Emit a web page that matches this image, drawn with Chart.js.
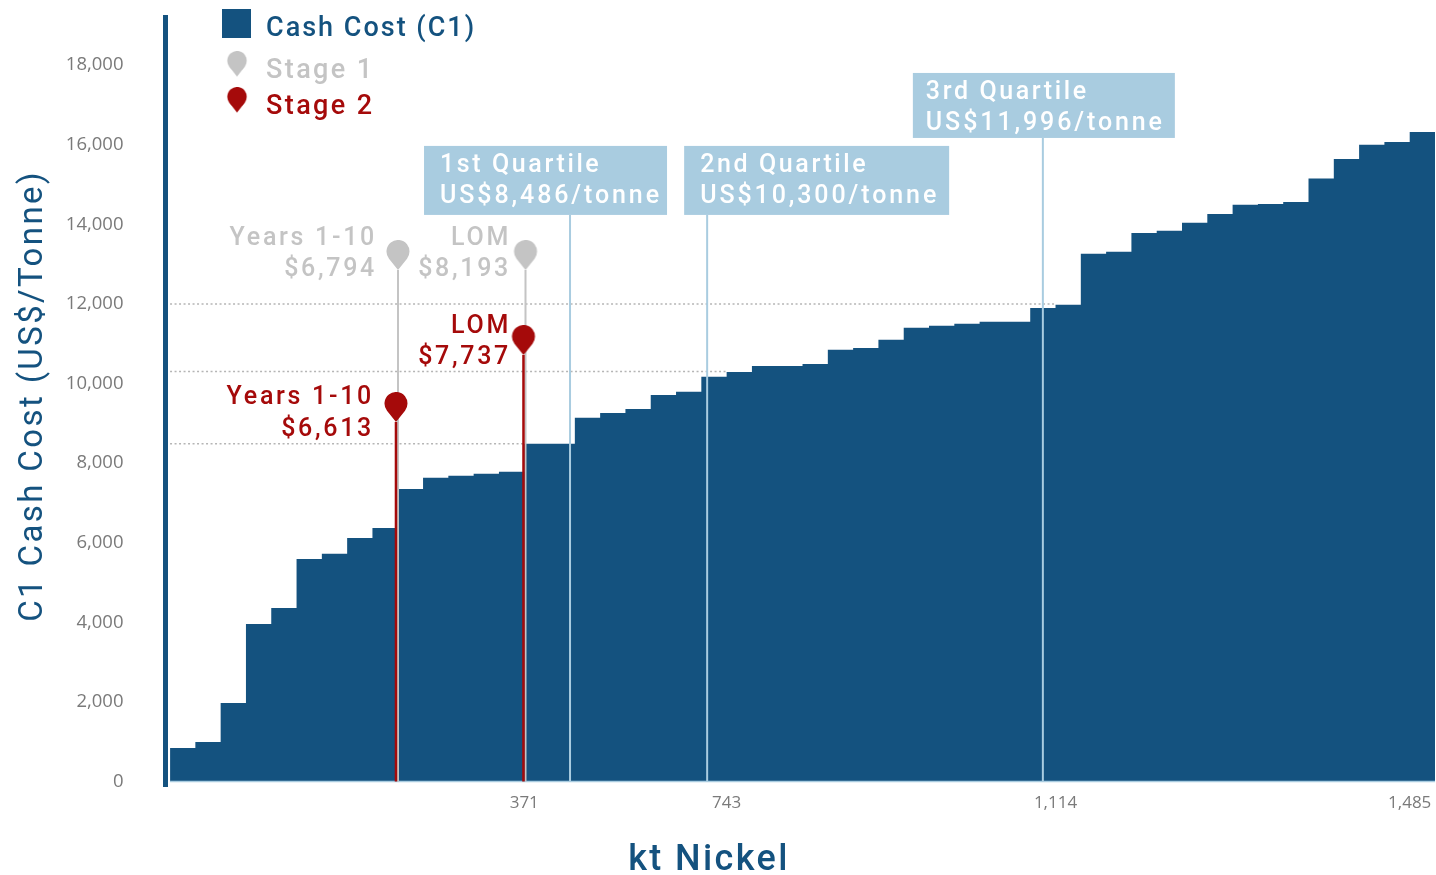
<!DOCTYPE html>
<html>
<head>
<meta charset="utf-8">
<title>C1 Cash Cost</title>
<script src="https://cdn.jsdelivr.net/npm/chart.js@4"></script>
<style>
    html, body { margin: 0; padding: 0; background: #fff; }
    canvas { display: block; }
</style>
</head>
<body>
<canvas id="costChart" width="1436" height="875"></canvas>
<script>
// one value per producer block on the cost curve
const cashCost = [
    840, 990, 1970, 3960, 4360, 5590, 5720, 6120, 6370, 7350,
    7630, 7680, 7730, 7780, 8486, 8486, 9140, 9260, 9360, 9710,
    9790, 10170, 10290, 10440, 10440, 10490, 10850, 10890, 11100, 11400,
    11450, 11500, 11550, 11550, 11900, 11980, 13260, 13310, 13780, 13840,
    14040, 14260, 14490, 14510, 14560, 15150, 15640, 16000, 16070, 16320
];

const yTickValues = [0, 2000, 4000, 6000, 8000, 10000, 12000, 14000, 16000, 18000];
const xTickPositions = [14, 22, 35, 49];
const xTickLabels = ['371', '743', '1,114', '1,485'];

const quartileNames = ['1st Quartile', '2nd Quartile', '3rd Quartile'];
const quartileCosts = [8486, 10300, 11996];
const quartileBlocks = [15.81, 21.23, 34.5];
const quartileDotEnds = [14, 22, 35];
const quartileStemTops = [14236, 14236, 16170];

const stage1Blocks = [9.01, 14.05];
const stage1PinHeights = [12852, 12852];
const stage2Blocks = [8.93, 13.97];
const stage2PinHeights = [9033, 10716];

const NAVY = '#14527f';
const PALE = '#a9cce0';
const RED = '#a50a0a';
const GREY = '#c4c4c4';
const TEXT_FONT = 'Roboto';

// teardrop marker, tip sits at the centre of the canvas so it lands on the data point
function makePin(color) {
    const c = document.createElement('canvas');
    c.width = 26;
    c.height = 60;
    const g = c.getContext('2d');
    g.fillStyle = color;
    g.beginPath();
    g.arc(13, 11.5, 11.5, 2.47, 0.67);
    g.lineTo(13, 30);
    g.closePath();
    g.fill();
    return c;
}

const greyPin = makePin(GREY);
const redPin = makePin(RED);

function text(ctx, str, x, y, size, color, align, spacing, weight) {
    ctx.font = (weight || 500) + ' ' + size + 'px ' + TEXT_FONT;
    ctx.letterSpacing = (spacing || 2.7) + 'px';
    ctx.fillStyle = color;
    ctx.textAlign = align || 'left';
    ctx.textBaseline = 'middle';
    ctx.fillText(str, x, y);
}

const annotations = {
    id: 'annotations',
    afterDraw(chart) {
        const ctx = chart.ctx;
        const xs = chart.scales.x, ys = chart.scales.y;
        ctx.save();

        // quartile boxes hang off the top of their stems
        const boxLeft = [-146, -23, -130];
        const boxRight = [97, 242, 132];
        const boxHeight = [69, 69, 65];
        quartileNames.forEach((name, i) => {
            const x = xs.getPixelForValue(quartileBlocks[i]);
            const bottom = ys.getPixelForValue(quartileStemTops[i]);
            ctx.fillStyle = PALE;
            ctx.fillRect(x + boxLeft[i], bottom - boxHeight[i], boxRight[i] - boxLeft[i], boxHeight[i]);
            const tx = x + boxLeft[i] + (i === 2 ? 13 : 16);
            text(ctx, name, tx, bottom - boxHeight[i] + 20, 25, '#fff', 'left', 2.6);
            text(ctx, 'US$' + quartileCosts[i].toLocaleString('en-US') + '/tonne', tx, bottom - boxHeight[i] + 51, 25, '#fff', 'left', 2.9);
        });

        // pin captions
        text(ctx, 'Years 1-10', 377, 239, 25, GREY, 'right');
        text(ctx, '$6,794', 377, 270, 25, GREY, 'right');
        text(ctx, 'LOM', 511, 239, 25, GREY, 'right');
        text(ctx, '$8,193', 511, 270, 25, GREY, 'right');
        text(ctx, 'LOM', 511, 327, 25, RED, 'right');
        text(ctx, '$7,737', 511, 358, 25, RED, 'right');
        text(ctx, 'Years 1-10', 374, 398, 25, RED, 'right');
        text(ctx, '$6,613', 374, 430, 25, RED, 'right');

        // legend
        ctx.fillStyle = NAVY;
        ctx.fillRect(222, 9, 29, 29);
        text(ctx, 'Cash Cost (C1)', 266, 29, 27, NAVY, 'left', 2);
        ctx.drawImage(greyPin, 226, 51, 22, 51);
        text(ctx, 'Stage 1', 266, 71, 27, GREY, 'left', 2.4);
        ctx.drawImage(redPin, 226, 87, 22, 51);
        text(ctx, 'Stage 2', 266, 107, 27, RED, 'left', 2.4);

        // axis titles
        text(ctx, 'kt Nickel', 709, 861, 36, NAVY, 'center', 2.4);
        ctx.translate(34, 396);
        ctx.rotate(-Math.PI / 2);
        text(ctx, 'C1 Cash Cost (US$/Tonne)', 0, 0, 33, NAVY, 'center', 2.4, 400);
        ctx.restore();
    }
};

function stem(x, top, color, width, order) {
    return {
        data: [{ x: x, y: 0 }, { x: x, y: top }],
        borderColor: color,
        borderWidth: width,
        pointRadius: 0,
        order: order
    };
}

const curve = cashCost.map((v, i) => ({ x: i, y: v }));
curve.push({ x: cashCost.length, y: cashCost[cashCost.length - 1] });

const datasets = [
    {
        label: 'Cash Cost (C1)',
        data: curve,
        stepped: true,
        fill: 'origin',
        backgroundColor: NAVY,
        borderWidth: 0,
        pointRadius: 0,
        order: 10
    },
    {
        data: [{ x: 0, y: 0 }, { x: cashCost.length, y: 0 }],
        borderColor: PALE,
        borderWidth: 1.5,
        pointRadius: 0,
        order: 9
    }
];

quartileCosts.forEach((cost, i) => {
    datasets.push({
        data: [{ x: 0, y: cost }, { x: quartileDotEnds[i], y: cost }],
        borderColor: '#b5b5b5',
        borderWidth: 1.5,
        borderDash: [2, 2.5],
        pointRadius: 0,
        order: 8
    });
    datasets.push(stem(quartileBlocks[i], quartileStemTops[i], PALE, 2, 7));
});

stage1Blocks.forEach((x, i) => {
    datasets.push(stem(x, stage1PinHeights[i], GREY, 2, 6));
    datasets.push({
        label: 'Stage 1',
        data: [{ x: x, y: stage1PinHeights[i] }],
        pointStyle: greyPin,
        showLine: false,
        order: 3
    });
});

stage2Blocks.forEach((x, i) => {
    datasets.push(stem(x, stage2PinHeights[i], RED, 2.5, 5));
    datasets.push({
        label: 'Stage 2',
        data: [{ x: x, y: stage2PinHeights[i] }],
        pointStyle: redPin,
        showLine: false,
        order: 2
    });
});

new Chart(document.getElementById('costChart').getContext('2d'), {
    type: 'line',
    data: { datasets: datasets },
    plugins: [annotations],
    options: {
        responsive: false,
        animation: false,
        layout: { autoPadding: false, padding: { top: 17, right: 1 } },
        plugins: { legend: { display: false }, tooltip: { enabled: false } },
        scales: {
            x: {
                type: 'linear',
                min: -0.18,
                max: 50,
                grid: { display: false, drawTicks: false },
                border: { display: false },
                afterBuildTicks(axis) { axis.ticks = xTickPositions.map(v => ({ value: v })); },
                afterFit(axis) {
                    axis.height = 89;
                    axis.paddingLeft = 0;
                    axis.paddingRight = 0;
                },
                ticks: {
                    autoSkip: false,
                    maxRotation: 0,
                    padding: 7,
                    color: '#7a7a7a',
                    font: { family: 'Open Sans', size: 17 },
                    callback: v => xTickLabels[xTickPositions.indexOf(v)]
                }
            },
            y: {
                type: 'linear',
                min: -113,
                max: 19209,
                grid: { display: false, drawTicks: false },
                border: { display: true, color: NAVY, width: 5 },
                afterBuildTicks(axis) { axis.ticks = yTickValues.map(v => ({ value: v })); },
                afterFit(axis) {
                    axis.width = 165.5;
                    axis.paddingTop = 0;
                    axis.paddingBottom = 0;
                },
                ticks: {
                    padding: 42,
                    color: '#7a7a7a',
                    font: { family: 'Open Sans', size: 18.5 },
                    callback: v => v.toLocaleString('en-US')
                }
            }
        }
    }
});
</script>
</body>
</html>
